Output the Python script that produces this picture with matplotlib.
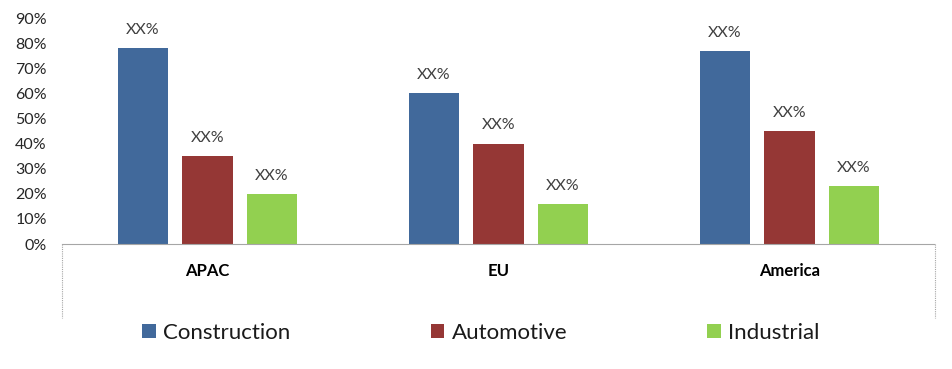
import matplotlib.pyplot as plt
import numpy as np
from matplotlib.lines import Line2D
from matplotlib.patches import Patch

plt.rcParams['font.family'] = ['Lato', 'DejaVu Sans']

# data
regions = ['APAC', 'EU', 'America']
series = ['Construction', 'Automotive', 'Industrial']
construction = [0.78, 0.60, 0.77]
automotive = [0.35, 0.40, 0.45]
industrial = [0.20, 0.16, 0.23]
bar_labels = ['XX%', 'XX%', 'XX%']
yticks = [0, 0.1, 0.2, 0.3, 0.4, 0.5, 0.6, 0.7, 0.8, 0.9]

colors = ['#41699B', '#953735', '#92D050']

fig = plt.figure(figsize=(9.52, 3.69), dpi=100)
W, H = 952, 369
ax = fig.add_axes([62 / W, (H - 244) / H, 873 / W, 226 / H])

x = np.arange(len(regions))
step = 0.2216
width = 0.175

for i, (vals, col) in enumerate(zip([construction, automotive, industrial], colors)):
    pos = x + (i - 1) * step
    bars = ax.bar(pos, vals, width=width, color=col, zorder=2)
    for b, lab in zip(bars, bar_labels):
        ax.annotate(lab, (b.get_x() + b.get_width() / 2, b.get_height()),
                    xytext=(0, 8), textcoords='offset points',
                    ha='center', va='bottom', fontsize=11.5, color='#404040')

ax.set_xlim(-0.5, 2.5)
ax.set_ylim(0, 0.9)
ax.set_yticks(yticks)
ax.set_yticklabels([f'{int(round(v * 100))}%' for v in yticks], fontsize=11.5, color='#262626')
ax.set_xticks(x)
ax.set_xticklabels(regions, fontsize=12, fontweight='bold', color='black')
ax.tick_params(axis='y', length=0, pad=11)
ax.tick_params(axis='x', length=0, pad=14)

for s in ['top', 'left', 'right']:
    ax.spines[s].set_visible(False)
ax.spines['bottom'].set_color('#a6a6a6')
ax.spines['bottom'].set_linestyle((0, (1, 1)))
ax.spines['bottom'].set_linewidth(0.8)

# box sides below the axis
depth = 74 / 226
for xa in [0, 1]:
    ax.add_line(Line2D([xa, xa], [0, -depth], transform=ax.transAxes, clip_on=False,
                       color='#a6a6a6', linestyle=(0, (1, 1)), linewidth=0.8))

handles = [Patch(facecolor=c) for c in colors]
fig.legend(handles, series, loc='center', bbox_to_anchor=(481 / W, 1 - 333 / H),
           ncol=3, frameon=False, fontsize=16, handlelength=0.6, handleheight=0.6,
           handletextpad=0.35, columnspacing=6.3, labelcolor='#1a1a1a')

fig.savefig('out.png', dpi=100)
